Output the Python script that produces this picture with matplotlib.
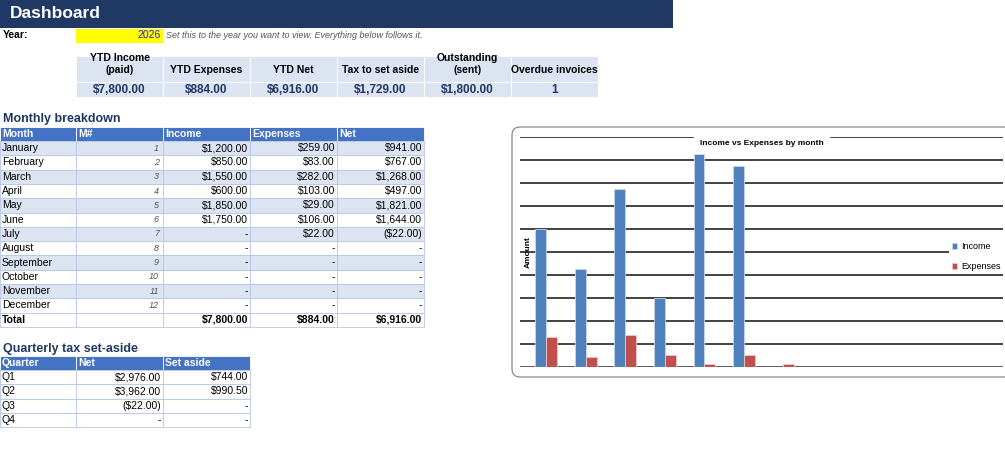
import numpy as np
import matplotlib
matplotlib.use('Agg')
import matplotlib.pyplot as plt
from matplotlib.patches import Rectangle, FancyBboxPatch

plt.rcParams['font.family'] = ['Liberation Sans', 'DejaVu Sans']

# data
year = 2026
kpi_heads = ['YTD Income\n(paid)', 'YTD Expenses', 'YTD Net', 'Tax to set aside', 'Outstanding\n(sent)', 'Overdue invoices']
kpi_vals = ['$7,800.00', '$884.00', '$6,916.00', '$1,729.00', '$1,800.00', '1']
months = ['January', 'February', 'March', 'April', 'May', 'June', 'July',
          'August', 'September', 'October', 'November', 'December']
income = [1200, 850, 1550, 600, 1850, 1750, 0, 0, 0, 0, 0, 0]
expenses = [259, 83, 282, 103, 29, 106, 22, 0, 0, 0, 0, 0]
quarters = ['Q1', 'Q2', 'Q3', 'Q4']
q_net = [2976, 3962, -22, 0]
q_aside = [744, 990.5, 0, 0]

def money(v):
    if v == 0:
        return '-'
    if v < 0:
        return '(${:,.2f})'.format(-v)
    return '${:,.2f}'.format(v)

NAVY = '#1F3864'
HEAD = '#4472C4'
LIGHT = '#DCE4F2'
GRID = '#B4C6E7'

fig = plt.figure(figsize=(10.05, 4.71), dpi=100)
ax = fig.add_axes([0, 0, 1, 1])
ax.set_xlim(0, 1005)
ax.set_ylim(471, 0)
ax.axis('off')

def cell(x0, y0, w, h, fc, ec=GRID):
    ax.add_patch(Rectangle((x0, y0), w, h, facecolor=fc, edgecolor=ec, lw=0.6))

# header
ax.add_patch(Rectangle((0, 0), 673, 28, facecolor=NAVY, edgecolor='none'))
ax.text(10, 14, 'Dashboard', color='white', fontsize=12.5, fontweight='bold', va='center')
ax.text(3, 35.5, 'Year:', fontsize=7.5, fontweight='bold', va='center')
ax.add_patch(Rectangle((76, 28.5), 87, 14, facecolor='#FFFF00', edgecolor='none'))
ax.text(161, 35.5, str(year), fontsize=7.5, color='#2020C0', ha='right', va='center')
ax.text(166, 35.5, 'Set this to the year you want to view. Everything below follows it.',
        fontsize=6.5, color='#555555', style='italic', va='center')

# KPI block
kw = 87
for i, (h, v) in enumerate(zip(kpi_heads, kpi_vals)):
    x0 = 76 + i * kw
    cell(x0, 56, kw, 26, LIGHT, 'white')
    cell(x0, 82, kw, 15, LIGHT, 'white')
    ax.text(x0 + kw / 2, 75, h, fontsize=7.5, fontweight='bold', ha='center', va='bottom',
            linespacing=1.3)
    ax.text(x0 + kw / 2, 90, v, fontsize=8.5, fontweight='bold', ha='center', va='center',
            color='#1F3864')

# monthly breakdown
ax.text(3, 119, 'Monthly breakdown', fontsize=9, fontweight='bold', color=NAVY, va='center')
cols = [0, 76, 163, 250, 337, 424]
heads = ['Month', 'M#', 'Income', 'Expenses', 'Net']
rh = 14.3
y0 = 127
for j, h in enumerate(heads):
    cell(cols[j], y0, cols[j + 1] - cols[j], 14, HEAD, '#FFFFFF')
    ax.text(cols[j] + 2, y0 + 7, h, color='white', fontsize=7.5, fontweight='bold', va='center')
for i, m in enumerate(months):
    y = y0 + 14 + i * rh
    fc = LIGHT if i % 2 == 0 else 'white'
    net = income[i] - expenses[i]
    vals = [m, str(i + 1), money(income[i]), money(expenses[i]), money(net)]
    for j, v in enumerate(vals):
        cell(cols[j], y, cols[j + 1] - cols[j], rh, fc)
        if j == 0:
            ax.text(cols[j] + 2, y + rh / 2, v, fontsize=7.5, va='center')
        elif j == 1:
            ax.text(cols[j + 1] - 4, y + rh / 2, v, fontsize=6.5, va='center', ha='right',
                    style='italic', color='#555555')
        else:
            ax.text(cols[j + 1] - 2, y + rh / 2, v, fontsize=7.5, va='center', ha='right')
y = y0 + 14 + 12 * rh
tot = ['Total', '', money(sum(income)), money(sum(expenses)), money(sum(income) - sum(expenses))]
for j, v in enumerate(tot):
    cell(cols[j], y, cols[j + 1] - cols[j], rh, 'white')
    if j == 0:
        ax.text(cols[j] + 2, y + rh / 2, v, fontsize=7.5, va='center', fontweight='bold')
    elif v:
        ax.text(cols[j + 1] - 2, y + rh / 2, v, fontsize=7.5, va='center', ha='right', fontweight='bold')

# quarterly
ax.text(3, 349, 'Quarterly tax set-aside', fontsize=9, fontweight='bold', color=NAVY, va='center')
qc = [0, 76, 163, 250]
y0 = 356
for j, h in enumerate(['Quarter', 'Net', 'Set aside']):
    cell(qc[j], y0, qc[j + 1] - qc[j], 14, HEAD, '#FFFFFF')
    ax.text(qc[j] + 2, y0 + 7, h, color='white', fontsize=7.5, fontweight='bold', va='center')
for i, q in enumerate(quarters):
    y = y0 + 14 + i * rh
    vals = [q, money(q_net[i]), money(q_aside[i])]
    for j, v in enumerate(vals):
        cell(qc[j], y, qc[j + 1] - qc[j], rh, 'white')
        if j == 0:
            ax.text(qc[j] + 2, y + rh / 2, v, fontsize=7.5, va='center')
        else:
            ax.text(qc[j + 1] - 2, y + rh / 2, v, fontsize=7.5, va='center', ha='right')

# chart frame
ax.add_patch(FancyBboxPatch((512, 127), 500, 250, boxstyle='round,pad=0,rounding_size=8',
                            facecolor='white', edgecolor='#888888', lw=0.9))

W, H = 1005, 471
cax = fig.add_axes([520 / W, 1 - 367 / H, (1003 - 520) / W, (367 - 137) / H])
x = np.arange(len(months))
bw = 11 / 40
cax.bar(x - bw / 2, income, bw, color='#4F81BD', edgecolor='#C9D7EA', lw=0.6, label='Income', zorder=3)
cax.bar(x + bw / 2, expenses, bw, color='#C0504D', edgecolor='#EBC9C8', lw=0.6, label='Expenses', zorder=3)
cax.set_xlim(-21 / 40 - bw / 2 + 0.0, 11.55)
cax.set_ylim(0, 2000)
cax.set_yticks(np.arange(0, 2001, 200))
cax.yaxis.grid(True, color='#222222', lw=1.2, zorder=1)
cax.tick_params(left=False, bottom=False, labelleft=False, labelbottom=False)
for s in cax.spines.values():
    s.set_visible(False)
cax.axhline(0, color='#666666', lw=2, zorder=2)
cax.set_facecolor('none')
cax.text(0.5, 0.985, 'Income vs Expenses by month', transform=cax.transAxes, ha='center',
         va='top', fontsize=6, fontweight='bold', backgroundcolor='white', zorder=5)
cax.text(0.018, 0.5, 'Amount', transform=cax.transAxes, rotation=90, ha='center', va='center',
         fontsize=6, fontweight='bold', zorder=5)
leg = cax.legend(loc='center right', bbox_to_anchor=(1.01, 0.48), frameon=True, fontsize=6.5,
                 handlelength=0.6, handleheight=0.6, labelspacing=1.2, borderpad=0.3,
                 handletextpad=0.4)
leg.get_frame().set_edgecolor('none')
leg.get_frame().set_facecolor('white')
leg.get_frame().set_alpha(1)

fig.savefig('out.png', dpi=100)
